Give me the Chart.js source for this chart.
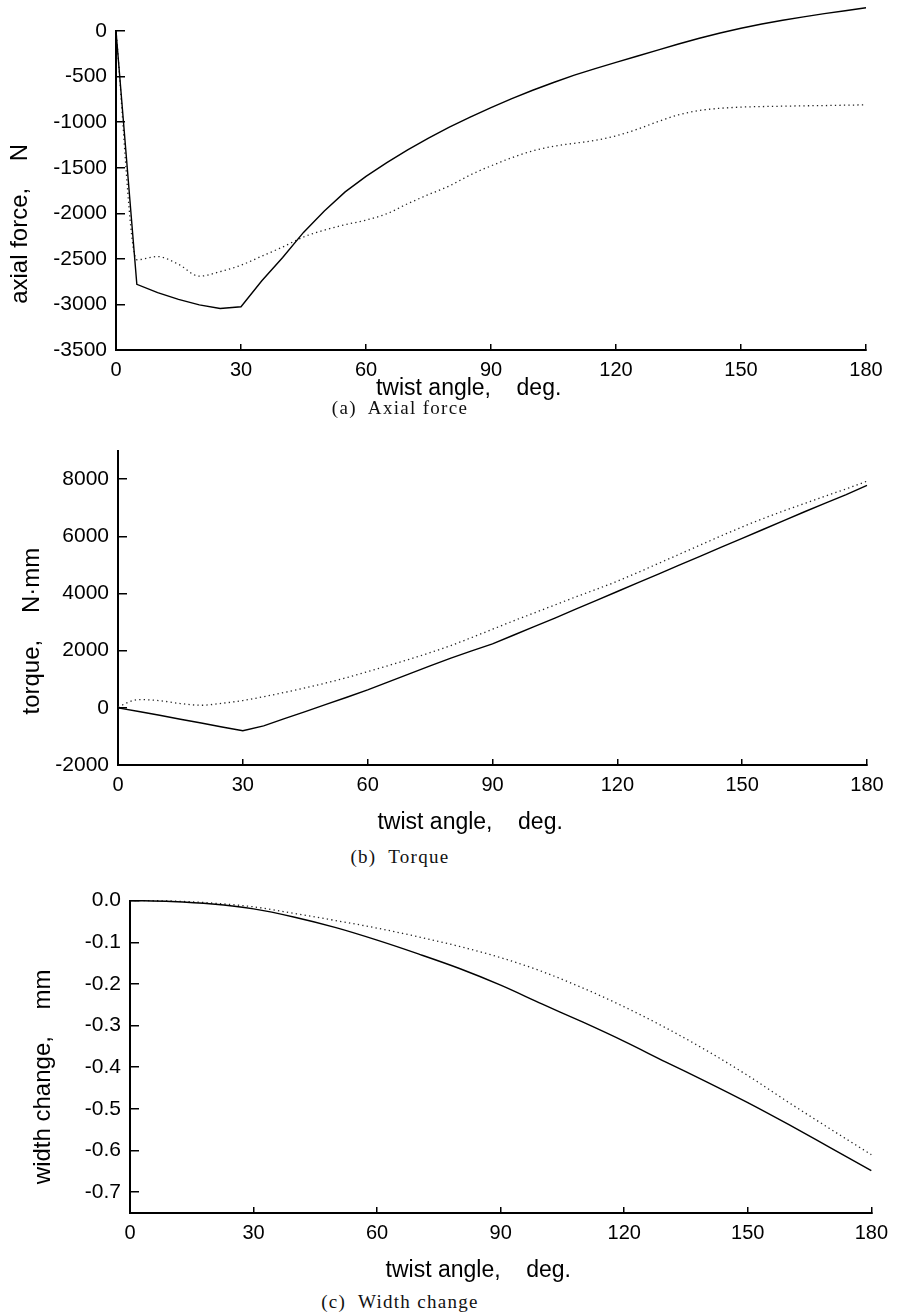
<!DOCTYPE html>
<html>
<head>
<meta charset="utf-8">
<script src="https://cdn.jsdelivr.net/npm/chart.js@4.4.1/dist/chart.umd.min.js"></script>
<style>
  body { margin: 0; background: #fff; width: 902px; height: 1315px; position: relative; overflow: hidden; }
  .box { position: absolute; left: 0; }
  .cap { position: absolute; left: 0; width: 800px; text-align: center; line-height: 20px;
         font-family: "Liberation Serif", "Times New Roman", serif; font-size: 19px; letter-spacing: 1.3px; color: #111; }
</style>
</head>
<body>
<div class="box" style="top:0"><canvas id="chartA" width="902" height="402"></canvas></div>
<div class="box" style="top:420px"><canvas id="chartB" width="902" height="416"></canvas></div>
<div class="box" style="top:870px"><canvas id="chartC" width="902" height="414"></canvas></div>
<div class="cap" style="top:398px">(a)&nbsp; Axial force</div>
<div class="cap" style="top:847px">(b)&nbsp; Torque</div>
<div class="cap" style="top:1292px">(c)&nbsp; Width change</div>
<script>
// twist angle, deg.
const angles5 = [0,5,10,15,20,25,30,35,40,45,50,55,60,65,70,75,80,85,90,
  95,100,105,110,115,120,125,130,135,140,145,150,155,160,165,170,175,180];
const angles10 = [0,10,20,30,40,50,60,70,80,90,100,110,120,130,140,150,160,170,180];
const xTicks = [0,30,60,90,120,150,180];

// (a) axial force, N
const forceSolid = [0,-2780,-2870,-2945,-3005,-3045,-3025,-2740,-2485,-2210,-1975,-1765,-1595,
  -1445,-1305,-1175,-1055,-945,-840,-742,-650,-565,-485,-412,-345,-277,-210,-143,-80,
  -22,30,77,118,155,190,222,255];
const forceDotted = [0,-2510,-2475,-2560,-2690,-2640,-2570,-2470,-2370,-2260,-2185,-2125,-2075,
  -2005,-1895,-1795,-1700,-1580,-1480,-1390,-1315,-1265,-1232,-1200,-1150,-1080,-995,-920,-872,
  -848,-835,-829,-825,-821,-818,-814,-810];
const forceTicks = [0,-500,-1000,-1500,-2000,-2500,-3000,-3500];

// (b) torque, N·mm
const torqueSolid = [0,-130,-260,-400,-530,-670,-800,-630,-380,-130,120,370,630,
  910,1190,1470,1740,1990,2240,2540,2840,3140,3450,3760,4070,4380,4690,5000,5310,
  5620,5930,6240,6550,6860,7160,7460,7780];
const torqueDotted = [40,290,250,150,90,160,255,390,540,700,870,1060,1265,
  1480,1700,1930,2180,2460,2750,3040,3320,3600,3880,4150,4430,4740,5060,5380,5700,
  6020,6330,6620,6890,7150,7410,7660,7930];
const torqueTicks = [-2000,0,2000,4000,6000,8000];

// (c) width change, mm
const widthSolid = [0,-0.002,-0.008,-0.02,-0.04,-0.065,-0.095,-0.128,-0.163,-0.203,
  -0.248,-0.292,-0.338,-0.387,-0.435,-0.485,-0.538,-0.593,-0.648];
const widthDotted = [0,-0.001,-0.006,-0.015,-0.031,-0.048,-0.066,-0.087,-0.11,-0.137,
  -0.17,-0.21,-0.255,-0.305,-0.36,-0.42,-0.485,-0.548,-0.61];
const widthTicks = [0,-0.1,-0.2,-0.3,-0.4,-0.5,-0.6,-0.7];

const sans = 'Liberation Sans, Arial, sans-serif';

function pts(xs, ys) {
  return xs.map((x, i) => ({ x: x, y: ys[i] }));
}

function makeChart(id, o) {
  return new Chart(document.getElementById(id), {
    type: 'line',
    data: {
      datasets: [
        { data: pts(o.xs, o.solid), borderColor: '#000', borderWidth: 1.4, pointRadius: 0, clip: false,
          cubicInterpolationMode: o.smoothSolid ? 'monotone' : 'default' },
        { data: pts(o.xs, o.dotted), borderColor: '#222', borderWidth: 1.3, borderDash: [1.3, 3.2],
          pointRadius: 0, clip: false, cubicInterpolationMode: 'monotone' }
      ]
    },
    options: {
      responsive: false,
      animation: false,
      events: [],
      layout: { padding: { top: o.padTop, left: o.padLeft, right: o.padRight, bottom: 0 } },
      plugins: { legend: { display: false }, tooltip: { enabled: false } },
      scales: {
        x: {
          type: 'linear', min: 0, max: 180,
          afterBuildTicks: s => { s.ticks = xTicks.map(v => ({ value: v })); },
          afterFit: s => { s.height = o.xHeight; },
          border: { color: '#000', width: 2 },
          grid: { drawOnChartArea: false, tickLength: -6, color: '#000', lineWidth: 1.5 },
          ticks: { color: '#000', font: { family: sans, size: 20 }, padding: 14,
                   maxRotation: 0, minRotation: 0, autoSkip: false, callback: v => String(v) },
          title: { display: true, text: 'twist angle,    deg.       ', color: '#000',
                   font: { family: sans, size: 23 }, padding: { top: 0, bottom: 0 } }
        },
        y: {
          type: 'linear', min: o.yMin, max: o.yMax,
          afterBuildTicks: s => { s.ticks = o.yTicks.map(v => ({ value: v })); },
          afterFit: s => { s.width = o.yWidth; },
          border: { color: '#000', width: 2 },
          grid: { drawOnChartArea: false, tickLength: -9, color: '#000', lineWidth: 1.5 },
          ticks: { color: '#000', font: { family: sans, size: 21 }, padding: 18, autoSkip: false,
                   callback: o.fmt },
          title: { display: true, text: o.yTitle, color: '#000',
                   font: { family: sans, size: 24 }, padding: { top: 0, bottom: 0 } }
        }
      }
    }
  });
}

makeChart('chartA', {
  xs: angles5, solid: forceSolid, dotted: forceDotted,
  yMin: -3500, yMax: 0, yTicks: forceTicks, fmt: v => String(v),
  yTitle: 'axial force,    N          ',
  padTop: 31, padLeft: 6, padRight: 36, yWidth: 110, xHeight: 52
});

makeChart('chartB', {
  xs: angles5, solid: torqueSolid, dotted: torqueDotted,
  yMin: -2000, yMax: 9000, yTicks: torqueTicks, fmt: v => String(v),
  yTitle: 'torque,    N\u00b7mm       ',
  padTop: 25, padLeft: 18, padRight: 35, yWidth: 100, xHeight: 71
});

makeChart('chartC', {
  xs: angles10, solid: widthSolid, dotted: widthDotted, smoothSolid: true,
  yMin: -0.75, yMax: 0, yTicks: widthTicks, fmt: v => v.toFixed(1),
  yTitle: 'width change,    mm      ',
  padTop: 28, padLeft: 29, padRight: 25, yWidth: 101, xHeight: 71
});
</script>
</body>
</html>
